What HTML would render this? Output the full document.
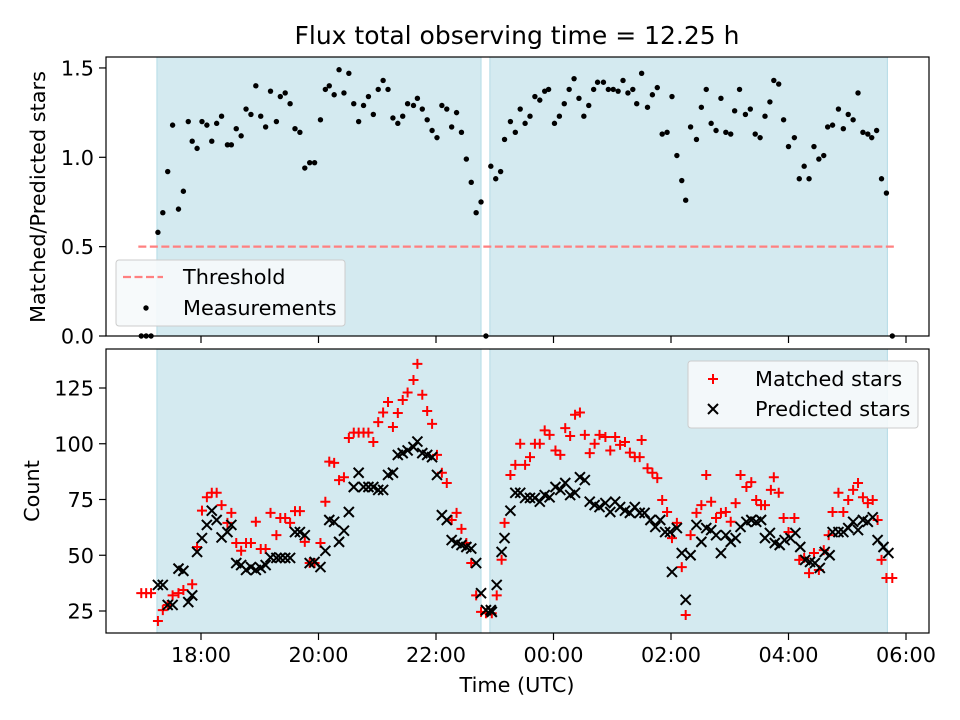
<!DOCTYPE html>
<html><head><meta charset="utf-8"><style>
body{margin:0;background:#fff;}
svg{display:block;font-family:"DejaVu Sans","Liberation Sans",sans-serif;}
</style></head><body>
<svg id="chart" width="960" height="720" viewBox="0 0 960 720"></svg>
<script>
// x values are minutes after 17:00 UTC
const tickHours = ["18:00","20:00","22:00","00:00","02:00","04:00","06:00"];
const tickMins = [60,180,300,420,540,660,780];
const ratioTicks = [0,0.5,1,1.5];
const ratioTickLabels = ["0.0","0.5","1.0","1.5"];
const countTicks = [25,50,75,100,125];
const spans = [[15,346],[355,761]];
const threshold = 0.5;
const thresholdRange = [-4,770];
const ratioT = [-1,4,9,16,21,26,31,37,42,47,51,56,61,66,71,76,81,87,91,96,101,106,111,116,121,126,131,137,141,146,151,156,161,166,171,176,182,187,191,196,201,206,211,216,221,226,231,236,241,246,251,256,261,266,271,277,281,286,291,296,301,306,311,316,321,326,331,336,341,346,351,
356,361,366,370,376,381,386,391,396,401,406,411,415,421,426,431,436,441,446,451,456,461,465,471,476,481,486,491,496,501,505,510,516,521,526,531,536,541,546,551,555,560,566,571,576,581,586,591,596,601,605,610,616,621,626,631,636,641,645,650,655,660,666,671,676,681,686,691,696,700,705,711,716,721,726,731,736,741,745,750,755,760,766];
const ratioV = [0,0,0,0.58,0.69,0.92,1.18,0.71,0.81,1.20,1.09,1.05,1.20,1.18,1.09,1.19,1.23,1.07,1.07,1.16,1.12,1.27,1.24,1.40,1.23,1.17,1.37,1.20,1.34,1.36,1.30,1.16,1.14,0.94,0.97,0.97,1.21,1.38,1.40,1.35,1.49,1.36,1.47,1.30,1.20,1.29,1.34,1.24,1.38,1.43,1.38,1.22,1.19,1.23,1.30,1.29,1.33,1.27,1.21,1.15,1.11,1.29,1.27,1.17,1.25,1.14,0.99,0.86,0.69,0.75,0,
0.95,0.88,0.92,1.10,1.20,1.14,1.27,1.19,1.23,1.34,1.32,1.37,1.38,1.19,1.23,1.30,1.38,1.44,1.33,1.23,1.29,1.38,1.42,1.42,1.38,1.38,1.37,1.43,1.36,1.38,1.30,1.47,1.28,1.35,1.39,1.13,1.14,1.34,1.01,0.87,0.76,1.17,1.10,1.28,1.38,1.19,1.15,1.33,1.14,1.13,1.26,1.38,1.24,1.27,1.13,1.11,1.23,1.31,1.43,1.41,1.21,1.06,1.11,0.88,0.95,0.88,1.06,0.99,1.01,1.17,1.18,1.27,1.16,1.24,1.21,1.36,1.14,1.13,1.11,1.15,0.88,0.80,0];
const matchedT = [-1,4,9,16,21,26,31,37,42,51,56,61,66,71,76,81,87,91,96,101,106,111,116,121,126,131,137,141,146,151,156,161,166,171,176,182,187,191,196,201,206,211,216,221,226,231,236,241,246,251,256,261,266,271,277,281,286,291,296,301,306,311,316,321,326,331,336,341,346,351,
357,362,367,370,376,381,386,391,396,401,406,411,416,422,427,432,437,442,447,452,457,462,467,473,478,483,488,493,498,503,508,510,516,521,526,531,536,541,546,551,555,560,566,571,576,581,586,591,596,601,606,611,617,622,627,632,636,642,645,650,655,660,666,671,676,681,686,691,696,701,705,711,716,721,726,731,736,741,746,751,755,760,766];
const matchedV = [33,33,33,20.5,25.4,27.7,32,33,34.4,37,53.7,70,76,78,78,72.5,64.5,69,55.5,52,55.5,55.5,65,52.8,52.8,69,59,66.7,66.7,64.5,69.8,69.8,56,46.5,46.5,55.5,74,92,91.4,83.7,85,102.6,105,105,105,105,100.8,109.7,114,118.7,107.5,113.8,119.6,123,128.6,135.8,122,114.7,108.9,95,87,82.4,65.8,69,61.8,55.5,46.5,32,24.6,24,
24,32,48,64.5,86,90.5,100,90.5,94,100,100,106,104,97,95,107,103.5,113,114,104,95.8,100,104,103,97,103,99.5,100.8,96,94,94,101.7,89,87,84.6,74.8,69.4,57.7,64.5,44.7,23.2,59,69,72.5,86,74,66.7,69,69.4,65,73.4,86,80.6,82.8,74.8,72.5,72.5,79.3,85,78,66.7,60.4,66.7,47.9,48.8,42,51,43.4,52.3,59,69.4,78,69.4,74.8,79.3,82.4,76,73.4,74.8,65.8,47.9,39.8,39.8];
const predT = [16,21,26,31,37,42,47,51,56,61,66,71,76,81,87,91,96,101,106,111,116,121,126,131,137,141,146,151,156,161,166,171,176,182,187,191,196,201,206,211,216,221,226,231,236,241,246,251,256,261,266,271,277,281,286,291,296,301,306,311,316,321,326,331,336,341,346,351,356,
357,362,367,370,376,381,386,391,396,401,406,411,416,422,427,432,437,442,447,452,457,462,467,473,478,483,488,493,498,503,508,513,519,524,529,534,539,541,546,551,555,560,566,571,576,581,586,591,596,601,606,611,617,622,627,632,636,641,646,651,656,662,667,672,677,682,687,692,697,702,705,711,716,721,726,731,736,741,746,751,757,762];
const predV = [36.7,36.7,27.7,27.7,44,43,29,32,51.5,57.7,63.6,70,65.8,58,60.4,63.6,46.5,45.6,43.4,44.7,43.4,44.3,45.6,49,48.8,48.8,48.8,48.8,60.4,60.4,59,46.5,47,44.7,52,65.8,65,56,61,69.4,80.6,87,80.6,80.6,80.6,79.3,79.3,86,87,95,95.8,97,98.5,101,95.8,95,94,86,68,65.8,56.8,55.5,54.6,53.7,53,46.5,33,25.4,25.4,
24.6,36.7,51.5,57.7,70,78,78,75.7,75.7,75.7,74,77,76,80.6,79.3,82.4,77,78,85,83.7,74,72.5,71.6,73.4,69.4,74,71.6,70,69,71.6,69,69,65.8,62.7,65.8,60.4,60.4,42.5,62.2,51,30,50,63.6,56,62.2,61.3,59,51,59,56,57.7,62.7,65,65.8,65,65.8,57.7,60,55.5,54.6,56.8,57.7,60,53.7,47.9,47,46.5,44.3,51.5,50,60.4,60.4,60.4,62.2,65,61.3,65.8,65,67,56.8,53.7,51];

const NS="http://www.w3.org/2000/svg";
const svg=document.getElementById('chart');
function mk(tag,attrs,parent){const e=document.createElementNS(NS,tag);for(const k in attrs)e.setAttribute(k,attrs[k]);(parent||svg).appendChild(e);return e;}
const L=106,R=929,T1=57,B1=336,T2=349,B2=633;
const FS=20.8;
function xs(m){return 201+(m-60)*0.97917;}
function y1(v){return 336-v*178.7;}
function y2(c){return 611-(c-25)*2.23;}

function panel(top,bot,name){
  const g=mk('g',{});
  
  
  mk('rect',{x:L,y:top,width:R-L,height:bot-top,fill:'#fff'},g);
  spans.forEach((s,i)=>{
    const r=mk('rect',{x:xs(s[0]),y:top,width:xs(s[1])-xs(s[0]),height:bot-top,fill:'#d4eaf0',stroke:'#b3dbe6','stroke-width':1},g);
    
    
  });
  return g;
}
const gTop=panel(T1,B1,'ratio-panel');
const gBot=panel(T2,B2,'count-panel');

const th=mk('line',{x1:xs(thresholdRange[0]),x2:xs(thresholdRange[1]),y1:y1(threshold),y2:y1(threshold),stroke:'#ff8080','stroke-width':2.2,'stroke-dasharray':'8,3.5'},gTop);



ratioT.forEach((t,i)=>{
  const c=mk('circle',{cx:xs(t),cy:y1(ratioV[i]),r:2.7,fill:'#000'},gTop);
  
  
});
function plus(x,y,p){return mk('path',{d:`M${x-5},${y}H${x+5}M${x},${y-5}V${y+5}`,stroke:'#f00','stroke-width':2,fill:'none'},p);}
function cross(x,y,p){return mk('path',{d:`M${x-5},${y-5}L${x+5},${y+5}M${x-5},${y+5}L${x+5},${y-5}`,stroke:'#000','stroke-width':2,fill:'none'},p);}
matchedT.forEach((t,i)=>{
  const m=plus(xs(t),y2(matchedV[i]),gBot);
  
  
});
predT.forEach((t,i)=>{
  const m=cross(xs(t),y2(predV[i]),gBot);
  
  
});

[[T1,B1,'ratio-frame'],[T2,B2,'count-frame']].forEach(f=>{
  const r=mk('rect',{x:L,y:f[0],width:R-L,height:f[1]-f[0],fill:'none',stroke:'#000','stroke-width':1.2});
  
  
});
tickMins.forEach((m,i)=>{
  const x=xs(m);
  mk('line',{x1:x,x2:x,y1:B1,y2:B1+7,stroke:'#000','stroke-width':1.2});
  mk('line',{x1:x,x2:x,y1:B2,y2:B2+7,stroke:'#000','stroke-width':1.2});
  const t=mk('text',{x:x,y:B2+29,'font-size':FS,'text-anchor':'middle',fill:'#000'});
  t.textContent=tickHours[i];
  
  
});
ratioTicks.forEach((v,i)=>{
  const y=y1(v);
  mk('line',{x1:L-7,x2:L,y1:y,y2:y,stroke:'#000','stroke-width':1.2});
  const t=mk('text',{x:L-12,y:y+7.5,'font-size':FS,'text-anchor':'end',fill:'#000'});
  t.textContent=ratioTickLabels[i];
  
  
});
countTicks.forEach(v=>{
  const y=y2(v);
  mk('line',{x1:L-7,x2:L,y1:y,y2:y,stroke:'#000','stroke-width':1.2});
  const t=mk('text',{x:L-12,y:y+7.5,'font-size':FS,'text-anchor':'end',fill:'#000'});
  t.textContent=String(v);
  
  
});

let t=mk('text',{x:517,y:44,'font-size':25,'text-anchor':'middle'});t.textContent='Flux total observing time = 12.25 h';


t=mk('text',{x:0,y:0,'font-size':FS,'text-anchor':'middle',transform:'translate(45,197) rotate(-90)'});t.textContent='Matched/Predicted stars';


t=mk('text',{x:0,y:0,'font-size':FS,'text-anchor':'middle',transform:'translate(39,491) rotate(-90)'});t.textContent='Count';


t=mk('text',{x:517,y:692,'font-size':FS,'text-anchor':'middle'});t.textContent='Time (UTC)';



let r=mk('rect',{x:116,y:260,width:229,height:66,rx:3,fill:'#f6f9fb','fill-opacity':0.9,stroke:'#ccc'});


mk('line',{x1:123,x2:163,y1:277,y2:277,stroke:'#ff8080','stroke-width':2.2,'stroke-dasharray':'8,3.5'});
mk('circle',{cx:146,cy:308,r:2.7,fill:'#000'});
t=mk('text',{x:183,y:284,'font-size':FS});t.textContent='Threshold';


t=mk('text',{x:183,y:315,'font-size':FS});t.textContent='Measurements';



r=mk('rect',{x:688,y:361,width:230,height:67,rx:3,fill:'#f6f9fb','fill-opacity':0.9,stroke:'#ccc'});


mk('path',{d:'M708,379H718M713,374V384',stroke:'#f00','stroke-width':2});
mk('path',{d:'M708,404L718,414M708,414L718,404',stroke:'#000','stroke-width':2});
t=mk('text',{x:755,y:386,'font-size':FS});t.textContent='Matched stars';


t=mk('text',{x:755,y:416,'font-size':FS});t.textContent='Predicted stars';


</script>
</body></html>
